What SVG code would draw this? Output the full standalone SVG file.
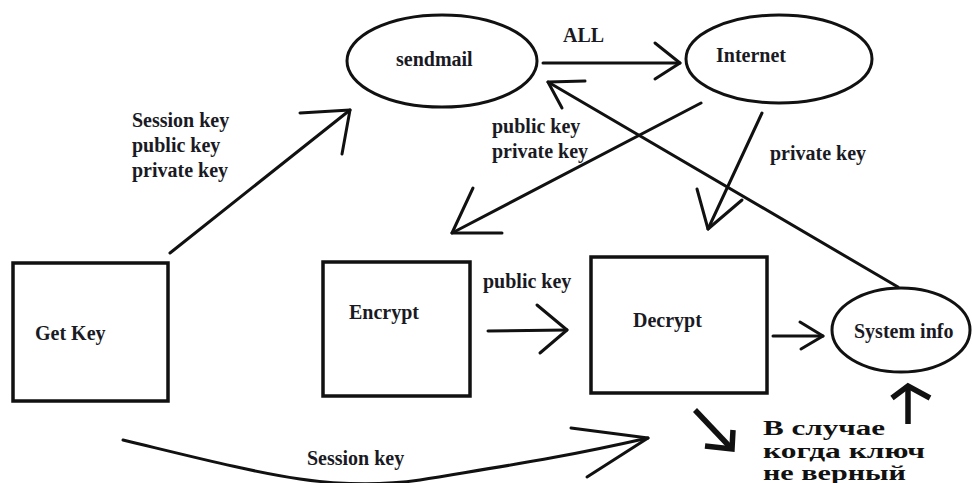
<svg xmlns="http://www.w3.org/2000/svg" width="972" height="483" viewBox="0 0 972 483">
  <style>
    .box { fill: #ffffff; stroke: #111111; stroke-width: 3.5; }
    .oval { fill: #ffffff; stroke: #111111; stroke-width: 3; }
    .wire { fill: none; stroke: #111111; stroke-width: 3; stroke-linecap: round; stroke-linejoin: round; }
    .heavy { fill: none; stroke: #111111; stroke-width: 5.5; stroke-linecap: butt; stroke-linejoin: miter; }
    .lbl { font-family: "Liberation Serif", "Times New Roman", serif; font-weight: bold; font-size: 20px; fill: #1a1a24; }
    .note { font-family: "Liberation Serif", "Times New Roman", serif; font-weight: bold; font-size: 20px; fill: #111111; }
  </style>
  <rect width="972" height="483" fill="#ffffff"/>

  <!-- connectors: shaft plus open V head -->
  <g id="connectors">
    <!-- Get Key -> sendmail -->
    <line class="wire" x1="170" y1="253" x2="350" y2="110"/>
    <polyline class="wire" points="300,113 350,110 342,154"/>
    <text class="lbl" x="132" y="127">Session key</text>
    <text class="lbl" x="132" y="152">public key</text>
    <text class="lbl" x="132" y="177">private key</text>

    <!-- sendmail -> Internet -->
    <line class="wire" x1="543" y1="63" x2="680" y2="63"/>
    <polyline class="wire" points="655,43 680,63 655,79"/>
    <text class="lbl" x="563" y="42">ALL</text>

    <!-- Internet -> Encrypt -->
    <line class="wire" x1="701" y1="103" x2="452" y2="233"/>
    <polyline class="wire" points="473,188 452,233 502,233"/>
    <text class="lbl" x="492" y="133">public key</text>
    <text class="lbl" x="492" y="158">private key</text>

    <!-- Internet -> Decrypt -->
    <line class="wire" x1="762" y1="113" x2="708" y2="229"/>
    <polyline class="wire" points="697,189 708,229 742,200"/>
    <text class="lbl" x="770" y="160">private key</text>

    <!-- System info -> sendmail -->
    <line class="wire" x1="898" y1="287" x2="548" y2="82"/>
    <polyline class="wire" points="585,81 548,82 562,108"/>

    <!-- Encrypt -> Decrypt -->
    <line class="wire" x1="488" y1="331" x2="567" y2="330"/>
    <polyline class="wire" points="537,305 567,330 540,353"/>
    <text class="lbl" x="483" y="288">public key</text>

    <!-- Decrypt -> System info -->
    <line class="wire" x1="773" y1="336" x2="823" y2="336"/>
    <polyline class="wire" points="800,322 823,336 801,349"/>

    <!-- Get Key -> Decrypt (session key, curved) -->
    <path class="wire" d="M123,440 C260,473 330,493 420,480 C510,465 560,458 648,438"/>
    <polyline class="wire" points="571,428 648,438 587,477"/>
    <text class="lbl" x="307" y="465">Session key</text>

    <!-- fallback path when the key is wrong -->
    <line class="heavy" x1="695" y1="410" x2="731" y2="448"/>
    <polyline class="heavy" points="733,430 732,449 705,446"/>
    <line class="heavy" x1="908" y1="424" x2="908" y2="388"/>
    <polyline class="heavy" points="892,398 908,386 930,398"/>
    <text class="note" x="763" y="435" textLength="122" lengthAdjust="spacingAndGlyphs">В случае</text>
    <text class="note" x="763" y="458" textLength="162" lengthAdjust="spacingAndGlyphs">когда ключ</text>
    <text class="note" x="763" y="480" textLength="143" lengthAdjust="spacingAndGlyphs">не верный</text>
  </g>

  <g id="sendmail">
    <ellipse class="oval" cx="442" cy="61" rx="95" ry="46"/>
    <text class="lbl" x="396" y="66">sendmail</text>
  </g>

  <g id="internet">
    <ellipse class="oval" cx="779" cy="59" rx="93" ry="44"/>
    <text class="lbl" x="716" y="62">Internet</text>
  </g>

  <g id="get-key">
    <rect class="box" x="13" y="263" width="155" height="138"/>
    <text class="lbl" x="35" y="340">Get Key</text>
  </g>

  <g id="encrypt">
    <rect class="box" x="323" y="262" width="147" height="134"/>
    <text class="lbl" x="349" y="319">Encrypt</text>
  </g>

  <g id="decrypt">
    <rect class="box" x="591" y="257" width="176" height="136"/>
    <text class="lbl" x="633" y="327">Decrypt</text>
  </g>

  <g id="system-info">
    <ellipse class="oval" cx="901" cy="330" rx="69" ry="42"/>
    <text class="lbl" x="854" y="338">System info</text>
  </g>
</svg>
